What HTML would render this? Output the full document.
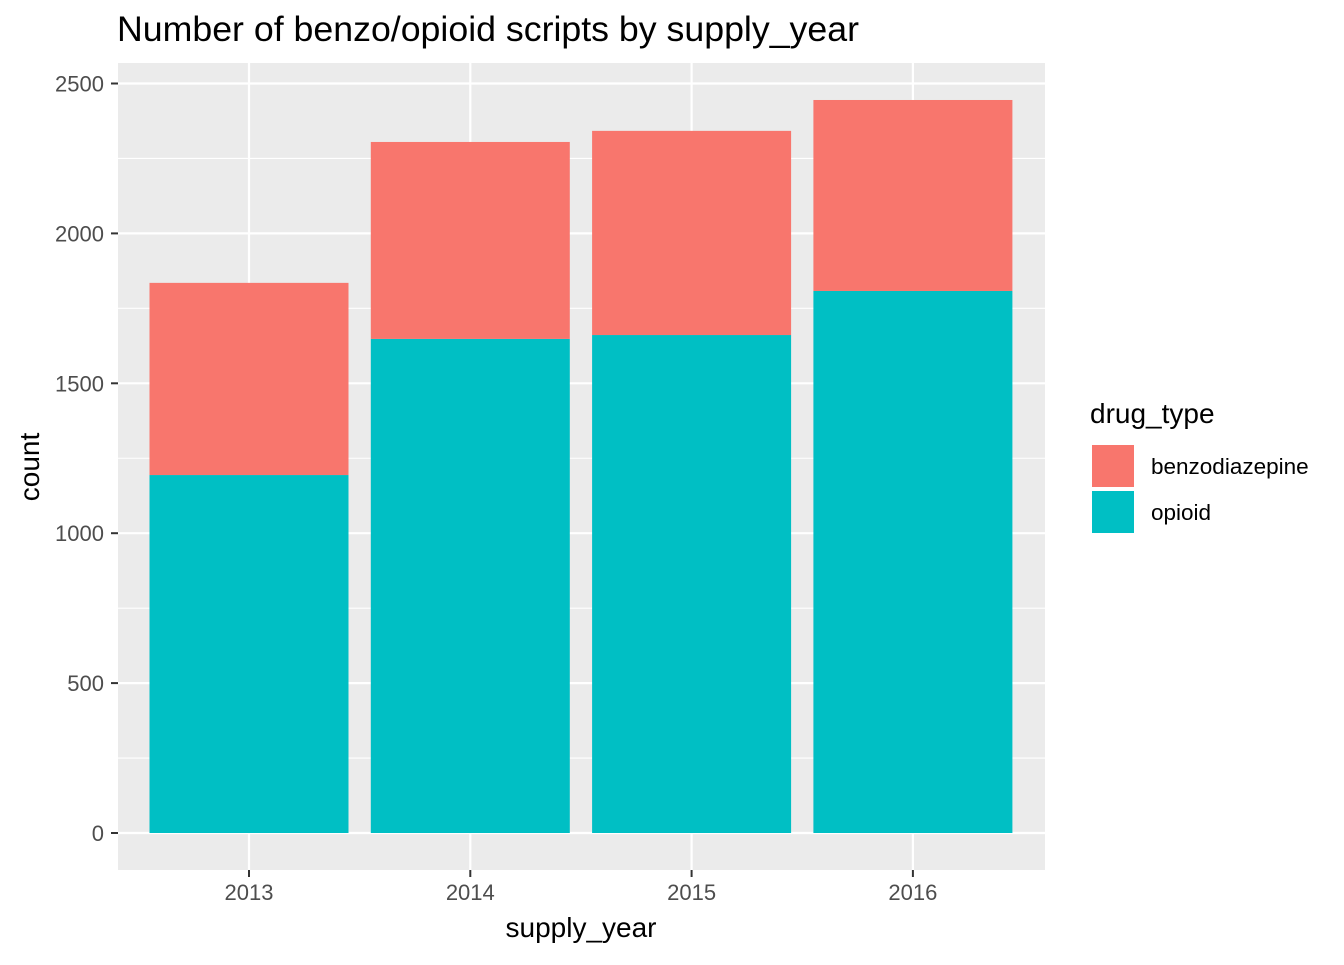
<!DOCTYPE html>
<html><head><meta charset="utf-8"><style>
body{margin:0;background:#fff;font-family:"Liberation Sans",Arial,sans-serif;}
svg text{font-family:"Liberation Sans",Arial,sans-serif;}
</style></head><body>
<svg id="chart" width="1344" height="960" xmlns="http://www.w3.org/2000/svg">
<rect width="1344" height="960" fill="#fff"/>
<text x="117" y="41" font-size="35" textLength="742" lengthAdjust="spacingAndGlyphs" fill="#000">Number of benzo/opioid scripts by supply_year</text>
<rect x="118" y="63" width="927" height="807" fill="#ebebeb"/>
<g id="grid"></g>
<g id="bars"></g>
<g id="axes"></g>
<text x="581" y="937" font-size="28" text-anchor="middle" fill="#000">supply_year</text>
<text transform="translate(39,467) rotate(-90)" font-size="28" text-anchor="middle" fill="#000">count</text>
<g>
<text x="1090" y="423" font-size="28" fill="#000">drug_type</text>
<rect x="1092" y="445" width="42" height="42" fill="#f8766d"/>
<text x="1151" y="474" font-size="22.5" fill="#000">benzodiazepine</text>
<rect x="1092" y="491" width="42" height="42" fill="#00bfc4"/>
<text x="1151" y="520" font-size="22.5" fill="#000">opioid</text>
</g>
</svg>
<script>
const years = ["2013","2014","2015","2016"];
const opioid = [1194, 1648, 1661, 1808];
const benzo = [641, 657, 681, 637];
const yTicks = [0, 500, 1000, 1500, 2000, 2500];
const NS = "http://www.w3.org/2000/svg";
const y0 = 833, pxPer = 749.5/2500;
const yS = v => y0 - v*pxPer;
const xS = i => 249 + i*221.3;
const bw = 199;
function mk(tag, attrs, parent){const e=document.createElementNS(NS,tag);for(const k in attrs)e.setAttribute(k,attrs[k]);parent.appendChild(e);return e;}
const grid=document.getElementById('grid'), bars=document.getElementById('bars'), axes=document.getElementById('axes');
for(let i=0;i<yTicks.length-1;i++){
  const m=(yTicks[i]+yTicks[i+1])/2;
  const l=mk('line',{x1:118,x2:1045,y1:yS(m),y2:yS(m),stroke:'#fff','stroke-width':1.1},grid);
  
  
}
yTicks.forEach(t=>{
  const l=mk('line',{x1:118,x2:1045,y1:yS(t),y2:yS(t),stroke:'#fff','stroke-width':2.2},grid);
  
  
  const tk=mk('line',{x1:111,x2:118,y1:yS(t),y2:yS(t),stroke:'#333','stroke-width':2},axes);
  
  
  const tx=mk('text',{x:104,y:yS(t)+8,'font-size':22,'text-anchor':'end',fill:'#4d4d4d'},axes);
  
  
  tx.textContent=t;
});
years.forEach((yr,i)=>{
  const x=xS(i);
  const l=mk('line',{x1:x,x2:x,y1:63,y2:870,stroke:'#fff','stroke-width':2.2},grid);
  
  
  const o=mk('rect',{x:x-bw/2,y:yS(opioid[i]),width:bw,height:y0-yS(opioid[i]),fill:'#00bfc4'},bars);
  
  
  const tot=opioid[i]+benzo[i];
  const b=mk('rect',{x:x-bw/2,y:yS(tot),width:bw,height:yS(opioid[i])-yS(tot),fill:'#f8766d'},bars);
  
  
  const tk=mk('line',{x1:x,x2:x,y1:870,y2:877,stroke:'#333','stroke-width':2},axes);
  
  
  const tx=mk('text',{x:x,y:900,'font-size':22,'text-anchor':'middle',fill:'#4d4d4d'},axes);
  
  
  tx.textContent=yr;
});
</script>
</body></html>
